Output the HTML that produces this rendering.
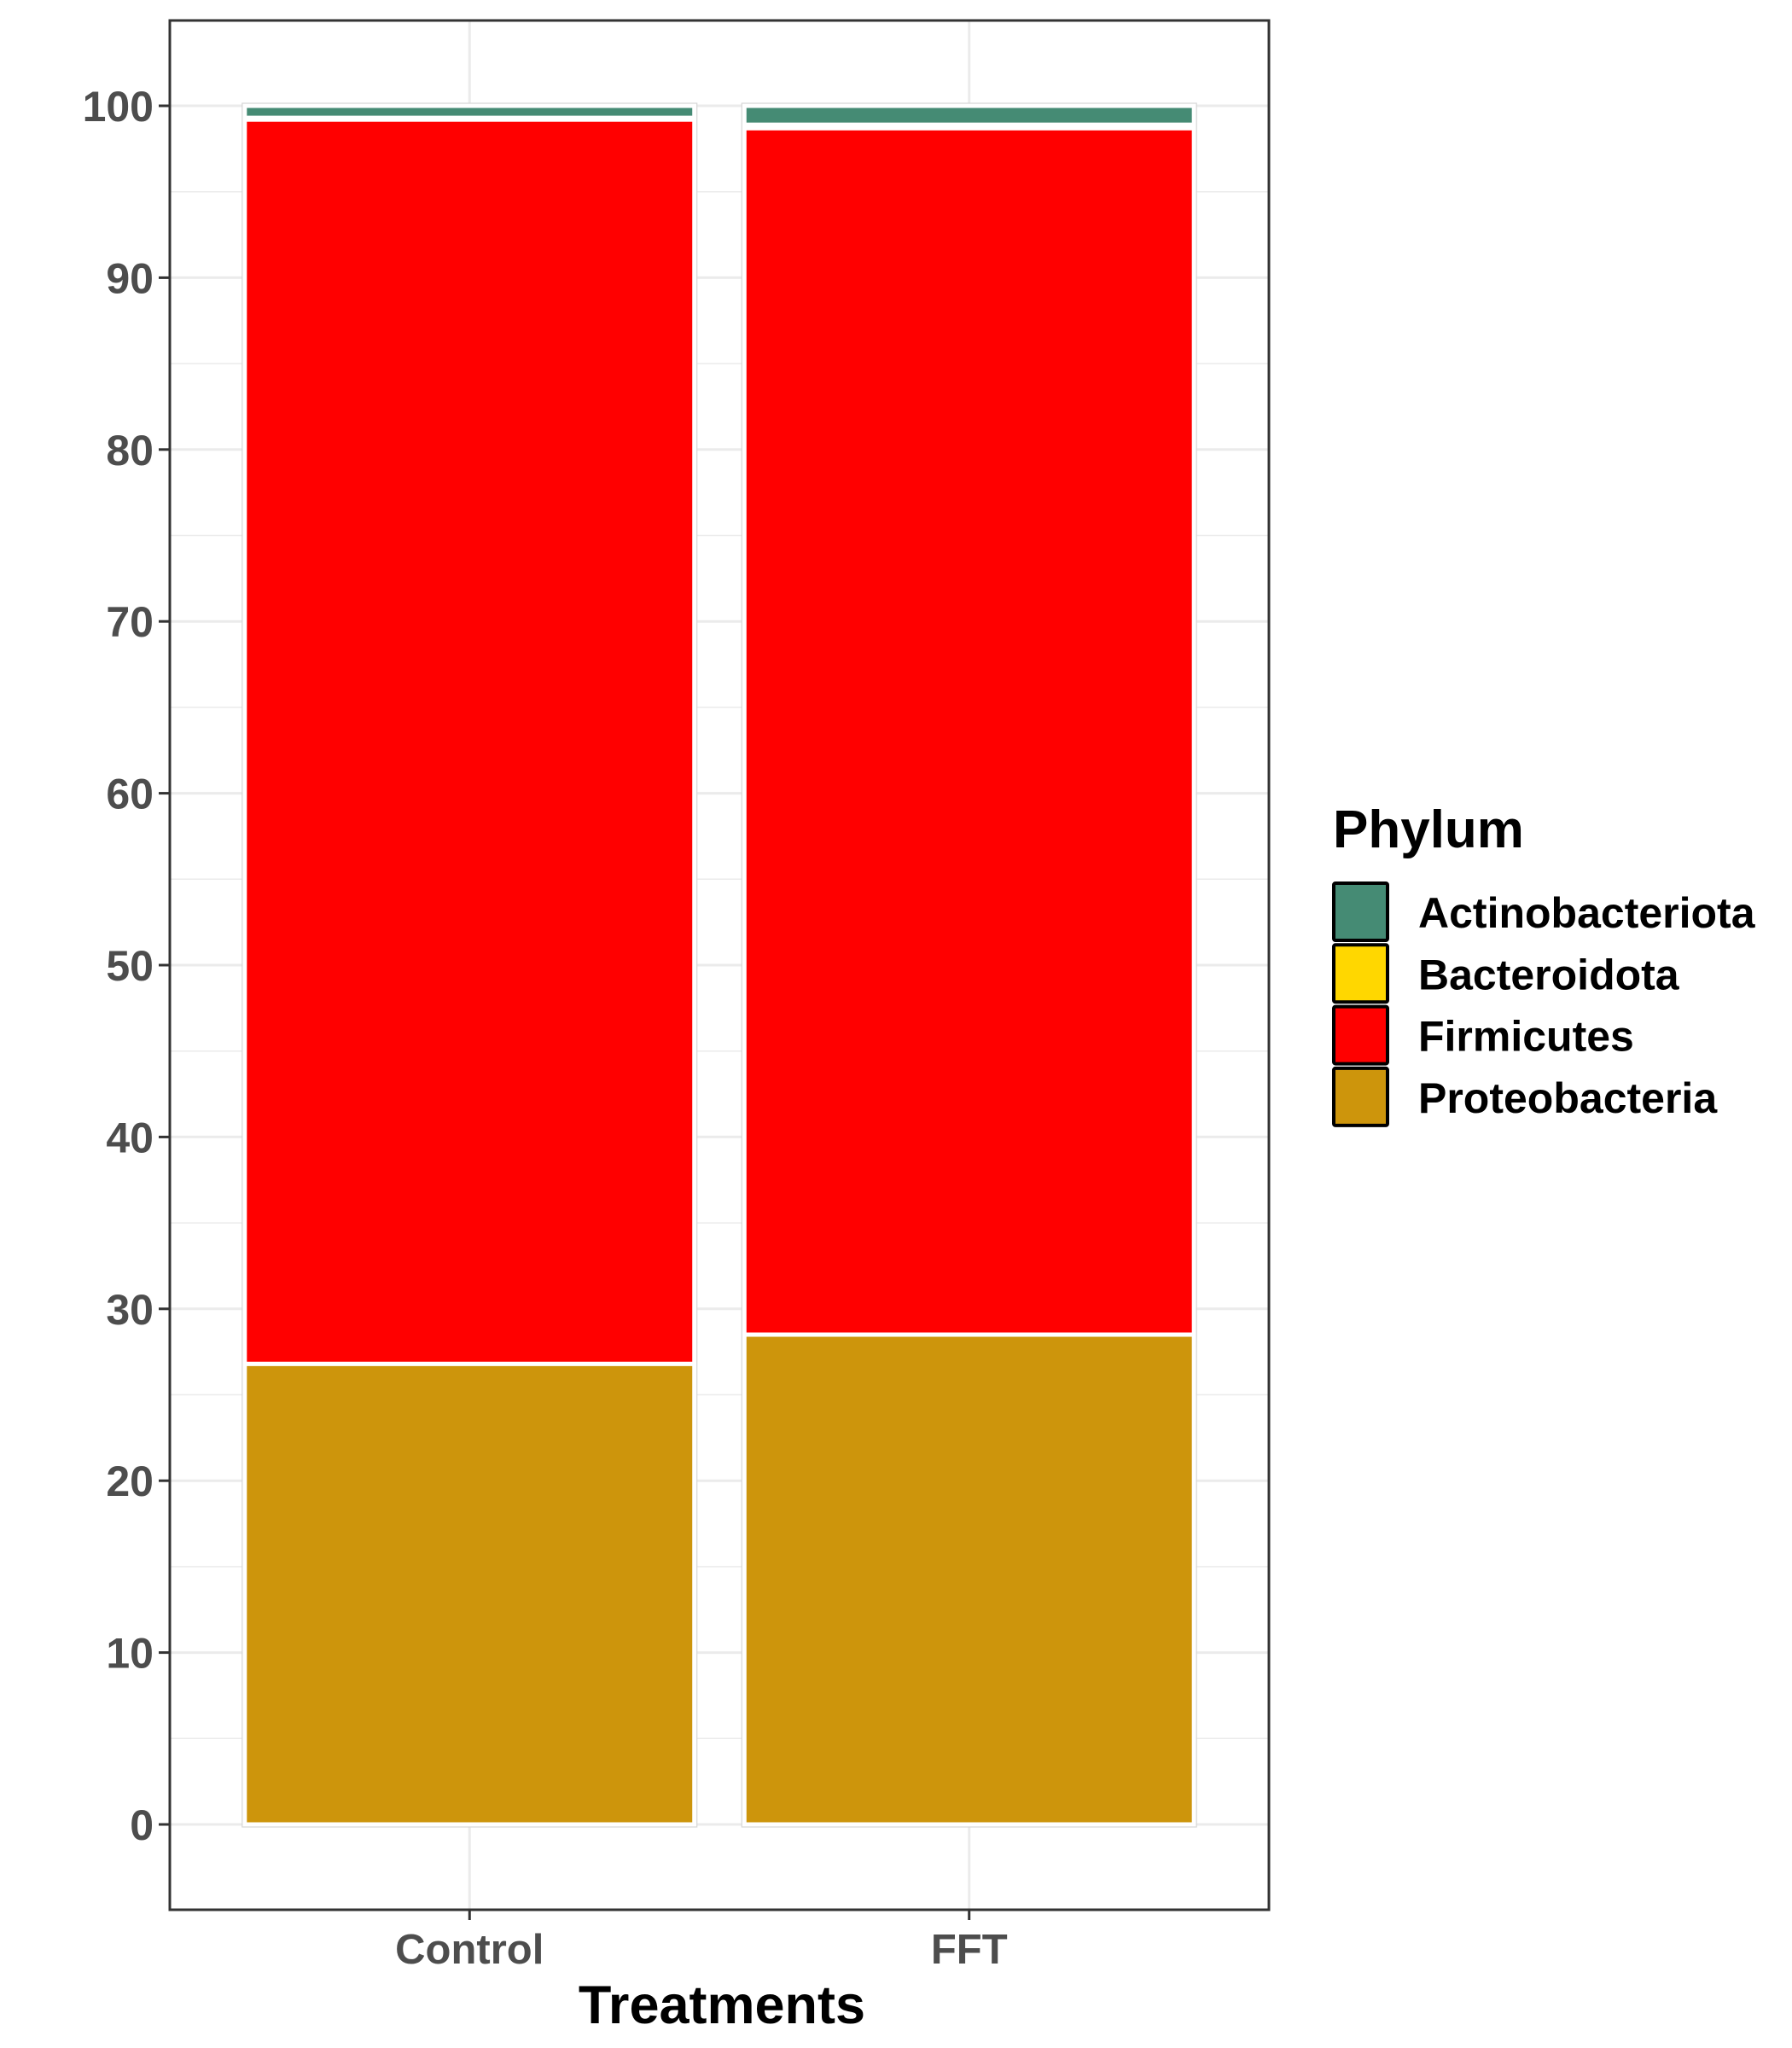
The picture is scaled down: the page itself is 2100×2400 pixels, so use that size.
<!DOCTYPE html>
<html><head><meta charset="utf-8"><style>
html,body{margin:0;padding:0;background:#fff;}
svg{display:block;font-family:"Liberation Sans",Arial,sans-serif;}
</style></head><body>
<svg id="chart" width="2100" height="2400" viewBox="0 0 2100 2400" xmlns="http://www.w3.org/2000/svg">
<g id="grid"></g>
<g id="bars"></g>
<rect x="199" y="24" width="1288" height="2214" fill="none" stroke="#333" stroke-width="3"/>
<g id="yaxis"></g>
<g id="xaxis"></g>
<text x="846" y="2371" text-anchor="middle" font-size="63" font-weight="bold" fill="#000">Treatments</text>
<g id="legend">
<text x="1562" y="993" font-size="62" font-weight="bold" fill="#000">Phylum</text>
</g>
</svg>
<script>
const categories = ["Control", "FFT"];
const phyla = ["Proteobacteria", "Firmicutes", "Bacteroidota", "Actinobacteriota"];
const proteobacteria = [26.8, 28.5];
const firmicutes = [72.4, 70.2];
const bacteroidota = [0.1, 0.2];
const actinobacteriota = [0.7, 1.1];
const yTicks = [0, 10, 20, 30, 40, 50, 60, 70, 80, 90, 100];
const yMinor = [5, 15, 25, 35, 45, 55, 65, 75, 85, 95];
const legendLabels = ["Actinobacteriota", "Bacteroidota", "Firmicutes", "Proteobacteria"];
const legendColors = ["#458B74", "#FFD700", "#FF0000", "#CD950C"];

const NS = "http://www.w3.org/2000/svg";
const colors = {Proteobacteria:"#CD950C", Firmicutes:"#FF0000", Bacteroidota:"#FFD700", Actinobacteriota:"#458B74"};
const series = {Proteobacteria:proteobacteria, Firmicutes:firmicutes, Bacteroidota:bacteroidota, Actinobacteriota:actinobacteriota};
const PL = 199, PR = 1487, PT = 24, PB = 2238;
function y(v){ return 2138 - 20.14 * v; }
function xc(i){ return PL + (i + 0.6) * (PR - PL) / 2.2; }
const bw = 0.9 * (PR - PL) / 2.2;
function mk(tag, attrs, parent){
  const e = document.createElementNS(NS, tag);
  for (const k in attrs) e.setAttribute(k, attrs[k]);
  parent.appendChild(e);
  return e;
}
const grid = document.getElementById("grid");
yMinor.forEach(v => {
  const l = mk("line", {x1:PL, x2:PR, y1:y(v), y2:y(v), stroke:"#ebebeb", "stroke-width":1.5}, grid);
  
  
});
yTicks.forEach(v => {
  const l = mk("line", {x1:PL, x2:PR, y1:y(v), y2:y(v), stroke:"#ebebeb", "stroke-width":3}, grid);
  
  
});
categories.forEach((c, i) => {
  const l = mk("line", {x1:xc(i), x2:xc(i), y1:PT, y2:PB, stroke:"#ebebeb", "stroke-width":3}, grid);
  
  
});
const bars = document.getElementById("bars");
categories.forEach((c, i) => {
  let base = 0;
  const x0 = xc(i) - bw / 2;
  phyla.forEach(p => {
    const v = series[p][i];
    const r = mk("rect", {x:x0, y:y(base + v), width:bw, height:Math.max(0, y(base) - y(base + v)), fill:colors[p], stroke:"#fff", "stroke-width":5}, bars);
    
    
    base += v;
  });
  const o = mk("rect", {x:x0 - 3, y:y(base) - 3, width:bw + 6, height:y(0) - y(base) + 6, fill:"none", stroke:"#d6d6d6", "stroke-width":1.2}, bars);
  
  
});
const ya = document.getElementById("yaxis");
yTicks.forEach(v => {
  const t = mk("line", {x1:186, x2:PL, y1:y(v), y2:y(v), stroke:"#333", "stroke-width":3}, ya);
  
  
  const tx = mk("text", {x:180, y:y(v) + 18, "text-anchor":"end", "font-size":50, "font-weight":"bold", fill:"#4d4d4d"}, ya);
  tx.textContent = v;
  
  
});
const xa = document.getElementById("xaxis");
categories.forEach((c, i) => {
  const t = mk("line", {x1:xc(i), x2:xc(i), y1:PB, y2:PB + 12, stroke:"#333", "stroke-width":3}, xa);
  
  
  const tx = mk("text", {x:xc(i), y:2301, "text-anchor":"middle", "font-size":49, "font-weight":"bold", fill:"#4d4d4d"}, xa);
  tx.textContent = c;
  
  
});
const lg = document.getElementById("legend");
legendLabels.forEach((lab, i) => {
  const top = 1033 + i * 72.3;
  const r = mk("rect", {x:1563, y:top + 2, width:63, height:67, fill:legendColors[i], stroke:"#000", "stroke-width":4, rx:2}, lg);
  
  
  const tx = mk("text", {x:1662, y:top + 54, "font-size":50, "font-weight":"bold", fill:"#000"}, lg);
  tx.textContent = lab;
  
  
});
</script>
</body></html>
